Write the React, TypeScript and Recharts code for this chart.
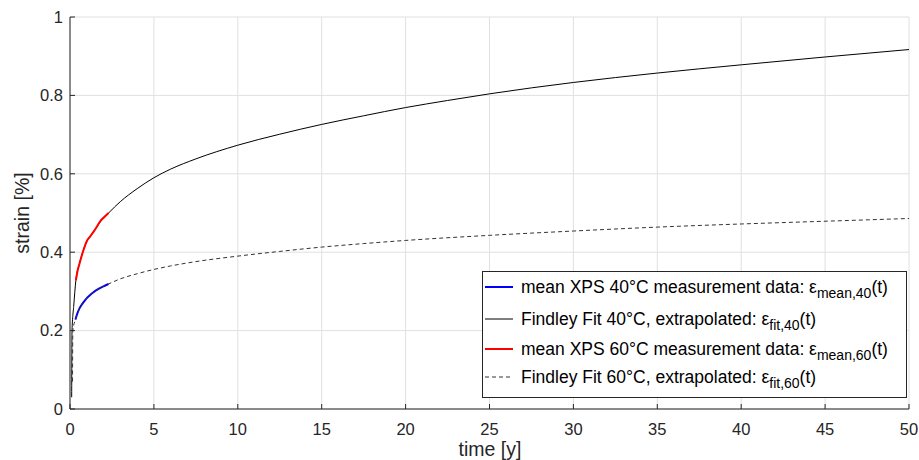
import React from "react";
import { LineChart, Line, XAxis, YAxis, CartesianGrid, Legend } from "recharts";

// time [y] ticks and strain [%] ticks
const xTicks = [0, 5, 10, 15, 20, 25, 30, 35, 40, 45, 50];
const yTicks = [0, 0.2, 0.4, 0.6, 0.8, 1];

// mean XPS 40°C measurement data (blue)
const mean40T = [0.32, 0.45, 0.58, 0.8, 1.0, 1.2, 1.4, 1.6, 1.9, 2.1, 2.3];
const mean40V = [0.228, 0.245, 0.258, 0.272, 0.283, 0.291, 0.298, 0.304, 0.311, 0.315, 0.319];

// Findley fit drawn solid black
const fit40T = [0.1, 0.12, 0.22, 0.35, 0.58, 1.0, 1.4, 1.8, 2.3, 3, 4, 5, 6, 7.5, 10, 12.5, 15, 17.5, 20, 22.5, 25, 30, 35, 40, 45, 50];
const fit40V = [0.03, 0.2, 0.262, 0.328, 0.373, 0.428, 0.452, 0.477, 0.5, 0.529, 0.562, 0.59, 0.612, 0.638, 0.673, 0.701, 0.726, 0.748, 0.769, 0.787, 0.804, 0.833, 0.857, 0.878, 0.898, 0.917];

// mean XPS 60°C measurement data (red)
const mean60T = [0.35, 0.45, 0.58, 0.8, 1.0, 1.2, 1.4, 1.6, 1.8, 2.0, 2.3];
const mean60V = [0.328, 0.352, 0.373, 0.405, 0.428, 0.44, 0.452, 0.465, 0.479, 0.488, 0.5];

// Findley fit drawn dashed
const fit60T = [0.15, 0.17, 0.32, 0.58, 1.0, 1.4, 1.9, 2.3, 3, 4, 5, 6, 7.5, 10, 12.5, 15, 17.5, 20, 25, 30, 35, 40, 45, 50];
const fit60V = [0.07, 0.2, 0.228, 0.258, 0.283, 0.298, 0.311, 0.319, 0.332, 0.345, 0.356, 0.365, 0.376, 0.39, 0.402, 0.413, 0.422, 0.43, 0.443, 0.454, 0.464, 0.472, 0.479, 0.486];

const legendMain = [
  "mean XPS 40°C measurement data: ε",
  "Findley Fit 40°C, extrapolated: ε",
  "mean XPS 60°C measurement data: ε",
  "Findley Fit 60°C, extrapolated: ε",
];
const legendSub = ["mean,40", "fit,40", "mean,60", "fit,60"];
const legendColor = ["#0000ff", "#000000", "#ff0000", "#333333"];
const legendWidth = [2, 1, 2, 1];
const legendDash = ["", "", "", "4 3"];
const legendRowY = [15, 47, 77, 105];

const toPoints = (t: number[], v: number[]) => t.map((x, i) => ({ t: x, v: v[i] }));

const FONT = "'Liberation Sans', Arial, Helvetica, sans-serif";
const INK = "#262626";

const YLabel = () => (
  <text
    x={22}
    y={213}
    transform="rotate(-90 22 213)"
    textAnchor="middle"
    dominantBaseline="central"
    fill={INK}
    fontSize={19.5}
    fontFamily={FONT}
  >
    strain [%]
  </text>
);

const XLabel = () => (
  <text x={490} y={456} textAnchor="middle" fill={INK} fontSize={19.5} fontFamily={FONT}>
    time [y]
  </text>
);

const LegendBox = () => (
  <div
    style={{
      position: "relative",
      width: 425,
      height: 127,
      background: "#fff",
      border: `1px solid ${INK}`,
      boxSizing: "border-box",
      fontFamily: FONT,
      fontSize: 17.5,
      color: "#000",
    }}
  >
    {legendMain.map((m, i) => (
      <div
        key={i}
        style={{
          position: "absolute",
          left: 0,
          top: legendRowY[i] - 10,
          height: 20,
          display: "flex",
          alignItems: "center",
          whiteSpace: "nowrap",
          lineHeight: "20px",
        }}
      >
        <svg width={36} height={20} style={{ display: "block" }}>
          <line
            x1={2}
            x2={30}
            y1={10}
            y2={10}
            stroke={legendColor[i]}
            strokeWidth={legendWidth[i]}
            strokeDasharray={legendDash[i] || undefined}
          />
        </svg>
        <span style={{ marginLeft: 2 }}>{m}</span>
        <span style={{ fontSize: 14, position: "relative", top: 6 }}>{legendSub[i]}</span>
        <span>(t)</span>
      </div>
    ))}
  </div>
);

export default function App() {
  const tick = { fontSize: 16.5, fill: INK, fontFamily: FONT };
  return (
    <div style={{ position: "absolute", left: 0, top: 0, width: 919, height: 460, background: "#fff" }}>
      <LineChart width={919} height={460} margin={{ top: 17, right: 10, bottom: 21, left: 10 }}>
        <CartesianGrid stroke="#e0e0e0" strokeWidth={1} />
        <XAxis
          dataKey="t"
          type="number"
          domain={[0, 50]}
          ticks={xTicks}
          allowDataOverflow
          height={30}
          tick={tick}
          tickSize={-5}
          tickMargin={19}
          stroke={INK}
          label={<XLabel />}
        />
        <XAxis
          xAxisId="top"
          orientation="top"
          type="number"
          domain={[0, 50]}
          ticks={xTicks}
          allowDataOverflow
          height={0}
          tick={false}
          tickSize={-5}
          stroke={INK}
        />
        <YAxis
          type="number"
          domain={[0, 1]}
          ticks={yTicks}
          allowDataOverflow
          width={60}
          tick={tick}
          tickSize={-5}
          tickMargin={12}
          stroke={INK}
          label={<YLabel />}
        />
        <YAxis
          yAxisId="right"
          orientation="right"
          type="number"
          domain={[0, 1]}
          ticks={yTicks}
          allowDataOverflow
          width={0}
          tick={false}
          tickSize={-5}
          stroke={INK}
        />
        <Line
          data={toPoints(mean40T, mean40V)}
          dataKey="v"
          name="mean40"
          stroke="#0000ff"
          strokeWidth={2}
          dot={false}
          type="monotone"
          isAnimationActive={false}
        />
        <Line
          data={toPoints(fit40T, fit40V)}
          dataKey="v"
          name="fit40"
          stroke="#000000"
          strokeWidth={1}
          dot={false}
          type="monotone"
          isAnimationActive={false}
        />
        <Line
          data={toPoints(mean60T, mean60V)}
          dataKey="v"
          name="mean60"
          stroke="#ff0000"
          strokeWidth={2}
          dot={false}
          type="monotone"
          isAnimationActive={false}
        />
        <Line
          data={toPoints(fit60T, fit60V)}
          dataKey="v"
          name="fit60"
          stroke="#333333"
          strokeWidth={1}
          strokeDasharray="4 3"
          dot={false}
          type="monotone"
          isAnimationActive={false}
        />
        <Legend
          layout="vertical"
          align="center"
          verticalAlign="middle"
          content={() => <LegendBox />}
          wrapperStyle={{ left: 482, top: 271, width: 425, height: 127 }}
        />
      </LineChart>
    </div>
  );
}
